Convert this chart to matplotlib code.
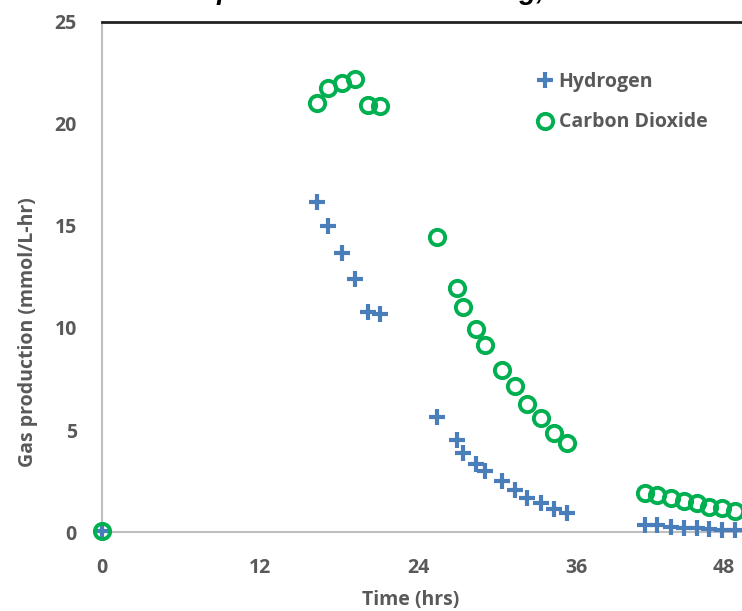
import matplotlib
matplotlib.use("Agg")
import matplotlib.pyplot as plt

# ==========================================
# Dati
# ==========================================
time_hrs = [0, 16.3, 17.15, 18.2, 19.15, 20.2, 21.05,
            25.4, 26.9, 27.4, 28.35, 29.0, 30.3, 31.3, 32.25, 33.25, 34.3, 35.25,
            41.2, 42.1, 43.1, 44.1, 45.1, 46.0, 47.0, 48.0]
hydrogen = [0.05, 16.2, 15.0, 13.7, 12.4, 10.8, 10.67,
            5.64, 4.5, 3.87, 3.33, 2.99, 2.5, 2.06, 1.67, 1.42, 1.13, 0.93,
            0.35, 0.33, 0.25, 0.22, 0.18, 0.15, 0.12, 0.08]
carbon_dioxide = [0.05, 21.05, 21.75, 22.0, 22.2, 20.93, 20.88,
                  14.45, 11.95, 11.03, 9.95, 9.17, 7.94, 7.16, 6.27, 5.59, 4.85, 4.36,
                  1.93, 1.81, 1.68, 1.52, 1.44, 1.24, 1.16, 1.04]
x_ticks = [0, 12, 24, 36, 48]
y_ticks = [0, 5, 10, 15, 20, 25]

TEXT_COLOR = "#595959"
plt.rcParams['font.family'] = ['Open Sans', 'DejaVu Sans']
plt.rcParams['font.weight'] = 'bold'
plt.rcParams['axes.labelweight'] = 'bold'

fig = plt.figure(figsize=(7.42, 6.11), dpi=100)
ax = fig.add_axes([102 / 742, 79 / 611, 640 / 742, 510 / 611])

ax.plot(time_hrs, hydrogen, linestyle='none', marker='+', markersize=11,
        markeredgewidth=3, color='#4A7EBB', label='Hydrogen', clip_on=False, zorder=3)
ax.plot(time_hrs, carbon_dioxide, linestyle='none', marker='o', markersize=11,
        markeredgewidth=2.8, markerfacecolor='none', color='#00B050',
        label='Carbon Dioxide', clip_on=False, zorder=4)

ax.set_xlim(0, 48.52)
ax.set_ylim(0, 25)
ax.set_xticks(x_ticks)
ax.set_yticks(y_ticks)
ax.tick_params(length=0, labelsize=14, labelcolor=TEXT_COLOR)
ax.tick_params(axis='y', pad=18)
ax.tick_params(axis='x', pad=19)
# l'ultima etichetta (48) tocca il bordo destro
ax.get_xticklabels()[-1].set_ha('right')

for s in ['left', 'bottom']:
    ax.spines[s].set_color('#BFBFBF')
    ax.spines[s].set_linewidth(1.5)
ax.spines['right'].set_visible(False)
ax.spines['top'].set_color('#222222')
ax.spines['top'].set_linewidth(2)

ax.set_xlabel('Time (hrs)', fontsize=14, color=TEXT_COLOR)
ax.xaxis.label.set_va('center')
ax.xaxis.set_label_coords(0.483, -0.133)
ax.set_ylabel('Gas production (mmol/L-hr)', fontsize=14, color=TEXT_COLOR)
ax.yaxis.label.set_va('center')
ax.yaxis.set_label_coords(-0.115, 0.392)

leg = ax.legend(loc='upper left', bbox_to_anchor=(0.677, 0.902), frameon=False,
                fontsize=14, handletextpad=0.2, handlelength=1.0,
                labelspacing=1.05, borderaxespad=0, borderpad=0)
for t in leg.get_texts():
    t.set_color(TEXT_COLOR)

# titolo tagliato in alto (si vedono solo i discendenti)
fig.text(157 / 742, 1.002, 'Gas production after feeding,', fontsize=20,
         family='Liberation Sans', weight='bold', style='italic',
         color='black', va='baseline', ha='left')

plt.savefig('out.png', dpi=100)
plt.close()
